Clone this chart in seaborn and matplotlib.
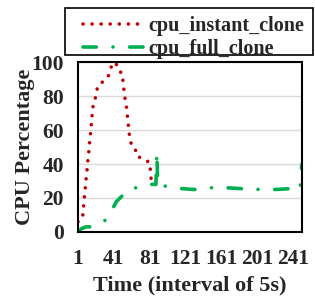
import seaborn as sns
import matplotlib.pyplot as plt
from matplotlib.patches import Rectangle
import pandas as pd

# datos
red_x = [1, 6, 7, 8, 9, 10, 11, 12, 13, 14, 15, 16, 17, 18, 21, 23, 30, 35, 38, 42,
         46, 48, 50, 51, 52, 53, 55, 56, 57, 58, 59, 62, 65, 66, 73, 81, 82, 83]
red_y = [6, 8, 14, 20, 25, 31, 36, 42, 47, 53, 58, 64, 70, 75, 80, 86, 89, 92, 97, 100,
         97, 96, 90, 90, 85, 80, 74, 69, 64, 59, 54, 50, 49, 45, 43, 41, 35, 29]
green_x = [1, 3, 5, 10, 16, 20, 32, 40, 44, 48, 55, 61, 75, 80, 85, 88, 89, 90, 95,
           104, 110, 117, 131, 148, 167, 183, 204, 221, 239, 249, 250, 251]
green_y = [0, 1, 2, 3, 3, 4, 7, 14, 18, 20, 24, 25.5, 27, 28, 28, 28, 47, 28, 27,
           27, 26.5, 25.5, 25, 26, 26, 25.5, 25, 25, 25.5, 25, 35, 40]
x_ticks = [1, 41, 81, 121, 161, 201, 241]
y_ticks = [0, 20, 40, 60, 80, 100]

red_df = pd.DataFrame({'t': red_x, 'cpu': red_y})
green_df = pd.DataFrame({'t': green_x, 'cpu': green_y})

sns.set_style('white')
plt.rcParams['font.family'] = ['Liberation Serif', 'DejaVu Serif']
plt.rcParams['font.weight'] = 'bold'

fig = plt.figure(figsize=(3.15, 2.97), dpi=100)
ax = fig.add_axes([0.2476, 0.219, 0.711, 0.572])

ax.yaxis.grid(True, color='#d9d9d9', linewidth=1)
ax.set_axisbelow(True)

sns.lineplot(data=red_df, x='t', y='cpu', ax=ax, color='#c00000', linewidth=2.6,
             label='cpu_instant_clone', estimator=None, sort=False)
sns.lineplot(data=green_df, x='t', y='cpu', ax=ax, color='#00b050', linewidth=2.6,
             label='cpu_full_clone', estimator=None, sort=False)
l_red, l_green = ax.get_lines()[:2]
l_red.set_linestyle((0, (0.01, 2.5)))
l_red.set_dash_capstyle('round')
l_green.set_linestyle((0, (3.7, 4.6, 0.01, 4.6)))
l_green.set_dash_capstyle('round')

ax.set_xlim(1, 251)
ax.set_ylim(0, 100)
ax.set_xticks(x_ticks)
ax.set_yticks(y_ticks)
ax.tick_params(axis='both', length=0, labelsize=15.5)
ax.tick_params(axis='x', pad=12)
ax.tick_params(axis='y', pad=10)
for s in ax.spines.values():
    s.set_color('black')
    s.set_linewidth(1.5)

ax.set_xlabel('Time (interval of 5s)', fontsize=16, fontweight='bold', labelpad=5)
ax.set_ylabel('CPU Percentage', fontsize=16, fontweight='bold')
ax.yaxis.set_label_coords(-0.19, 0.5)

handles, labels = ax.get_legend_handles_labels()
ax.get_legend().remove()
leg = fig.legend(handles, labels, loc='upper left', bbox_to_anchor=(0.263, 0.947),
                 fontsize=14.5, frameon=False, handlelength=3.0, handletextpad=0.25,
                 labelspacing=0.15, borderpad=0, borderaxespad=0)
for t in leg.get_texts():
    t.set_fontweight('bold')
fig.add_artist(Rectangle((65 / 315, 1 - 55 / 297), 248 / 315, 47 / 297,
                         transform=fig.transFigure, fill=False,
                         edgecolor='black', linewidth=1.2))

fig.savefig('out.png', dpi=100)
